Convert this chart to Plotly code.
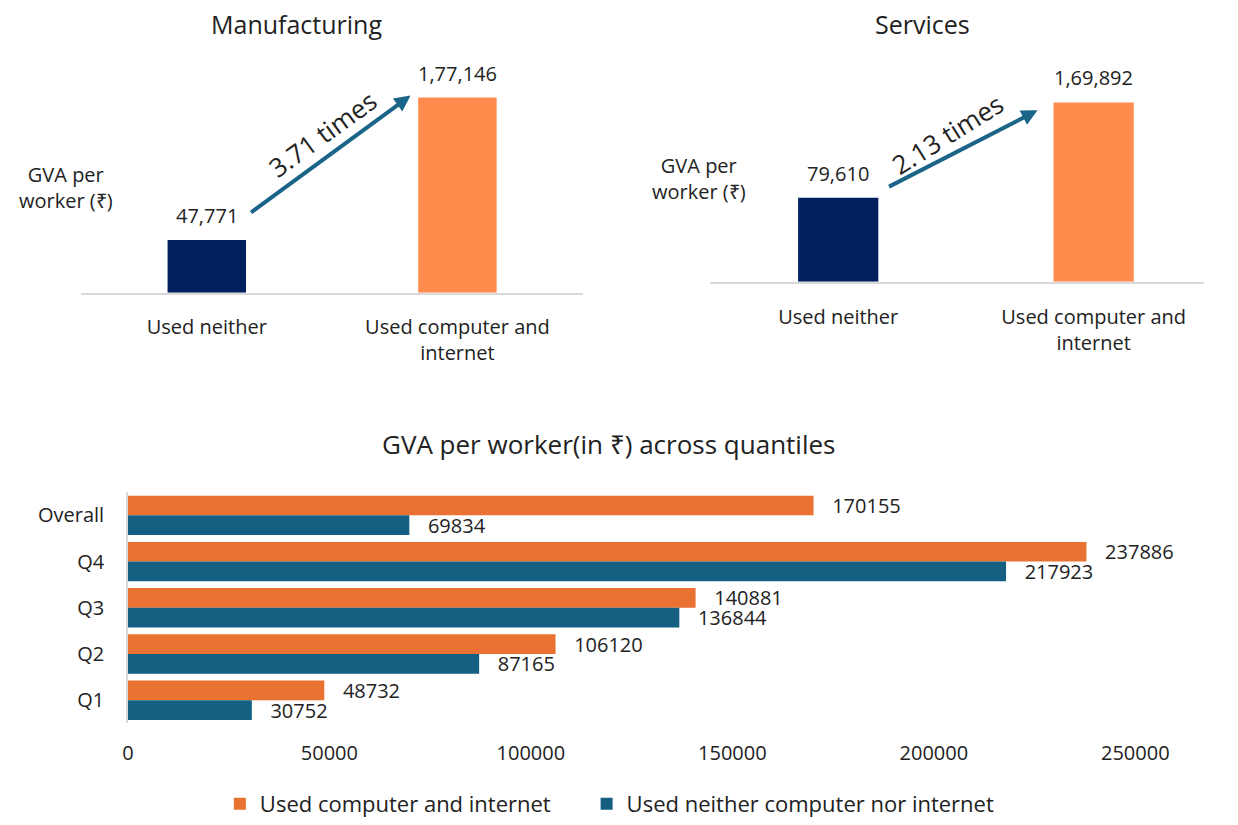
import plotly.graph_objects as go

# top panels: GVA per worker (Rs)
groups = ["Used neither", "Used computer and<br>internet"]
manufacturing = [47771, 177146]
services = [79610, 169892]
mfg_ratio = "3.71 times"
svc_ratio = "2.13 times"

# bottom panel: GVA per worker across quantiles
quantiles = ["Overall", "Q4", "Q3", "Q2", "Q1"]
used_both = [170155, 237886, 140881, 106120, 48732]
used_neither = [69834, 217923, 136844, 87165, 30752]
x_ticks = [0, 50000, 100000, 150000, 200000, 250000]

FONT = "Open Sans"
TXT = "#222222"
W, H = 1238, 825


def indian(n):
    s = str(n)
    head, tail = s[:-3], s[-3:]
    parts = []
    while len(head) > 2:
        parts.insert(0, head[-2:])
        head = head[:-2]
    if head:
        parts.insert(0, head)
    return ",".join(parts + [tail]) if parts else tail


def px(x):
    return x / W


def py(y):
    return 1 - y / H


def note(x, y, text, size=20, **kw):
    return dict(x=px(x), y=py(y), xref="paper", yref="paper", text=text,
                showarrow=False, xanchor="center", yanchor="middle",
                font=dict(size=size, color=TXT, family=FONT, weight=kw.pop("weight", 400)),
                **kw)


def legend_box(x):
    return dict(orientation="h", x=px(x), xanchor="left", y=py(816), yanchor="middle",
                font=dict(size=22, color=TXT, family=FONT), itemwidth=30,
                bgcolor="rgba(0,0,0,0)")


fig = go.Figure()

fig.add_trace(go.Bar(x=groups, y=manufacturing, width=0.313,
                     marker=dict(color=["#002060", "#FF8B4D"], line_width=0),
                     xaxis="x", yaxis="y", showlegend=False, hoverinfo="skip"))
fig.add_trace(go.Bar(x=groups, y=services, width=0.314,
                     marker=dict(color=["#002060", "#FF8B4D"], line_width=0),
                     xaxis="x2", yaxis="y2", showlegend=False, hoverinfo="skip"))

fig.add_trace(go.Bar(y=quantiles, x=used_both, orientation="h",
                     name="Used computer and internet", legend="legend",
                     marker=dict(color="#E97132", line_width=0),
                     text=["   " + str(v) for v in used_both], textposition="outside",
                     constraintext="none", cliponaxis=False,
                     textfont=dict(size=20, color=TXT, family=FONT),
                     xaxis="x3", yaxis="y3", hoverinfo="skip"))
fig.add_trace(go.Bar(y=quantiles, x=used_neither, orientation="h",
                     name="Used neither computer nor internet", legend="legend2",
                     marker=dict(color="#156082", line_width=0),
                     text=["   " + str(v) for v in used_neither], textposition="outside",
                     constraintext="none", cliponaxis=False,
                     textfont=dict(size=20, color=TXT, family=FONT),
                     xaxis="x3", yaxis="y3", hoverinfo="skip"))

annotations = []
# value labels on top panels
for xa, ya, vals in [("x", "y", manufacturing), ("x2", "y2", services)]:
    for g, v in zip(groups, vals):
        annotations.append(dict(x=g, y=v, xref=xa, yref=ya, text=indian(v),
                                showarrow=False, xanchor="center", yanchor="bottom",
                                yshift=9, font=dict(size=20, color=TXT, family=FONT)))

# titles and y labels
annotations += [
    note(300, 24, "Manufacturing", size=25, weight=500),
    note(947, 24, "Services", size=25, weight=500),
    note(623, 451, "GVA per worker(in ₹) across quantiles", size=26),
    note(62, 190, "GVA per<br>worker (₹)"),
    note(716, 181, "GVA per<br>worker (₹)"),
    note(327, 136, mfg_ratio, size=26, textangle=-36),
    note(973, 136, svc_ratio, size=26, textangle=-32),
]

# growth arrows
annotations += [
    dict(x=px(418), y=py(97), xref="paper", yref="paper", ax=-161, ay=118,
         text="", showarrow=True, arrowhead=2, arrowsize=0.8, arrowwidth=4,
         arrowcolor="#1A6587"),
    dict(x=px(1066), y=py(112), xref="paper", yref="paper", ax=-150, ay=77,
         text="", showarrow=True, arrowhead=2, arrowsize=0.8, arrowwidth=4,
         arrowcolor="#1A6587"),
]

cat_axis = dict(showgrid=False, zeroline=False, showline=True, linecolor="#D9D9D9",
                linewidth=1.5, ticks="", ticklabelstandoff=16,
                tickfont=dict(size=20, color=TXT, family=FONT), fixedrange=True)
val_axis = dict(visible=False, fixedrange=True)

fig.update_layout(
    width=W, height=H,
    margin=dict(l=0, r=0, t=0, b=0),
    paper_bgcolor="white", plot_bgcolor="white",
    font=dict(family=FONT, color=TXT),
    barmode="group", bargap=0.149, bargroupgap=0,
    xaxis=dict(cat_axis, domain=[px(78), px(596)], range=[-0.5, 1.5], anchor="y"),
    yaxis=dict(val_axis, domain=[py(297), py(50)], range=[0, 220986], anchor="x"),
    xaxis2=dict(cat_axis, domain=[px(728), 1.0], range=[-0.5, 1.432], anchor="y2"),
    yaxis2=dict(val_axis, domain=[py(286), py(50)], range=[0, 220300], anchor="x2"),
    xaxis3=dict(domain=[px(126), px(1167)], range=[0, 250000], tickvals=x_ticks,
                tickformat="d", anchor="y3",
                showgrid=False, zeroline=False, showline=False, ticks="",
                ticklabelstandoff=16, tickfont=dict(size=20, color=TXT, family=FONT),
                fixedrange=True),
    yaxis3=dict(domain=[py(734), py(499.5)], autorange="reversed", anchor="x3",
                showgrid=False, zeroline=False, showline=True, linecolor="#D9D9D9",
                linewidth=1.5, ticks="", ticklabelstandoff=18,
                tickfont=dict(size=20, color=TXT, family=FONT), fixedrange=True),
    legend=legend_box(221),
    legend2=legend_box(600),
    annotations=annotations,
)

fig.write_html("out.html", config={"displayModeBar": False},
               post_script="document.body.style.margin='0';document.body.style.overflow='hidden';")
